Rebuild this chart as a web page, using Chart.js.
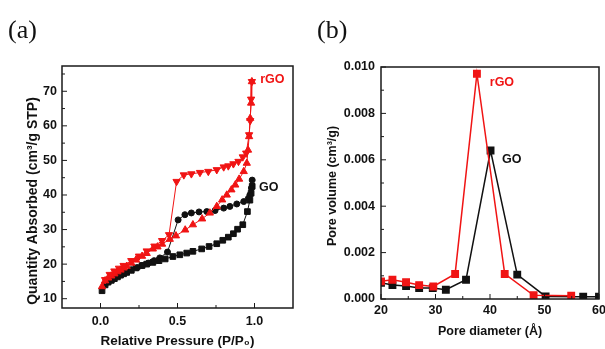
<!DOCTYPE html>
<html>
<head>
<meta charset="utf-8">
<script src="https://cdn.jsdelivr.net/npm/chart.js@4.4.1/dist/chart.umd.min.js"></script>
<style>
  html, body { margin: 0; padding: 0; background: #fff; }
  #wrap { position: relative; width: 605px; height: 349px; overflow: hidden; }
  .panel { position: absolute; top: 0; height: 349px; }
  #isoBox { left: 0; width: 300px; }
  #poreBox { left: 300px; width: 305px; }
  .tag { position: absolute; top: 17px; font-family: "Liberation Serif", serif; font-size: 26px; line-height: 26px; color: #111; }
</style>
</head>
<body>
<div id="wrap">
  <div class="panel" id="isoBox"><canvas id="iso" width="300" height="349"></canvas></div>
  <div class="panel" id="poreBox"><canvas id="pore" width="305" height="349"></canvas></div>
  <div class="tag" style="left:8px">(a)</div>
  <div class="tag" style="left:317px">(b)</div>
</div>
<script>
// (a) N2 isotherms
const goAdsP = [0.01,0.03,0.05,0.07,0.09,0.11,0.13,0.15,0.17,0.2,0.23,0.27,0.3,0.34,0.38,0.42,0.47,0.515,0.56,0.6,0.657,0.705,0.755,0.794,0.83,0.863,0.89,0.924,0.954,0.97,0.978,0.985];
const goAdsQ = [12.3,14.0,14.8,15.3,15.8,16.3,16.8,17.2,17.6,18.2,18.9,19.6,20.0,20.5,21.0,21.5,22.2,22.7,23.2,23.7,24.4,25.1,25.9,26.9,27.8,28.8,30.1,31.4,35.2,38.5,40.5,42.5];
const goDesP = [0.985,0.98,0.97,0.96,0.93,0.885,0.84,0.8,0.744,0.69,0.64,0.59,0.548,0.504,0.435,0.385,0.348,0.31,0.27,0.24,0.2,0.16,0.12,0.08,0.05];
const goDesQ = [44.3,42.0,40.0,39.0,38.1,37.4,36.7,36.2,35.5,35.2,35.1,34.8,34.3,32.8,23.5,21.8,21.0,20.3,19.6,19.0,18.4,17.6,16.7,15.6,14.8];
const rgoAdsP = [0.01,0.03,0.05,0.07,0.09,0.11,0.13,0.15,0.17,0.2,0.23,0.27,0.3,0.34,0.37,0.4,0.45,0.49,0.55,0.6,0.66,0.71,0.755,0.79,0.82,0.85,0.875,0.9,0.93,0.95,0.958,0.965,0.972,0.978,0.983];
const rgoAdsQ = [13.5,15.2,16.0,16.6,17.2,17.8,18.3,18.9,19.4,20.3,21.2,22.3,23.1,24.4,25.0,25.8,27.2,28.2,29.9,31.4,33.1,34.8,36.7,38.6,40.0,41.5,42.9,44.6,46.8,49.2,53.0,56.9,62.2,66.6,72.8];
const rgoDesP = [0.983,0.978,0.972,0.965,0.946,0.924,0.896,0.863,0.83,0.8,0.755,0.7,0.646,0.59,0.541,0.494,0.445,0.4,0.35,0.3,0.25,0.2,0.15,0.12,0.09,0.06,0.03];
const rgoDesQ = [72.8,67.7,61.5,57.4,52.1,51.0,49.7,49.0,48.4,48.1,47.3,46.8,46.5,46.1,45.8,43.9,28.5,26.8,25.2,23.8,22.3,21.0,19.6,18.8,18.0,17.0,15.5];
const isoXTicks = [0, 0.5, 1.0];
const isoYTicks = [10, 20, 30, 40, 50, 60, 70];

// (b) pore size distribution
const rgoPoreD = [20,22.1,24.6,27.0,29.6,33.6,37.6,42.7,48.0,54.9];
const rgoPoreV = [0.00076,0.00083,0.00072,0.0006,0.00054,0.00108,0.00971,0.00108,0.00016,0.00014];
const goPoreD = [20,22.1,24.6,27.0,29.5,31.9,35.6,40.1,45.0,50.2,57.1,60];
const goPoreV = [0.0007,0.0006,0.00056,0.00047,0.00047,0.0004,0.00083,0.0064,0.00105,0.00011,0.0001,0.0001];
const poreXTicks = [20, 30, 40, 50, 60];
const poreYTicks = [0, 0.002, 0.004, 0.006, 0.008, 0.010];

const RED = '#f01414';
const BLACK = '#111111';
const FONT = 'Liberation Sans, Arial, sans-serif';

function pts(xs, ys) {
  return xs.map((x, i) => ({ x: x, y: ys[i] }));
}

// frame, inward ticks, y title and text labels
const frameTicks = {
  id: 'frameTicks',
  afterDraw(chart, args, opts) {
    const { ctx, chartArea: a, scales: { x, y } } = chart;
    ctx.save();
    ctx.strokeStyle = '#1a1a1a';
    ctx.lineWidth = 1;
    ctx.beginPath();
    const xs = opts.xMajor, ys = opts.yMajor;
    xs.forEach(v => { const p = x.getPixelForValue(v); ctx.moveTo(p, a.bottom); ctx.lineTo(p, a.bottom - 5); });
    ys.forEach(v => { const p = y.getPixelForValue(v); ctx.moveTo(a.left, p); ctx.lineTo(a.left + 5, p); });
    const dx = xs[1] - xs[0], dy = ys[1] - ys[0];
    for (let v = xs[0] - dx / 2; v <= x.max; v += dx) {
      if (v <= x.min || v >= x.max) continue;
      const p = x.getPixelForValue(v); ctx.moveTo(p, a.bottom); ctx.lineTo(p, a.bottom - 3);
    }
    for (let v = ys[0] - dy / 2; v <= y.max; v += dy) {
      if (v <= y.min || v >= y.max) continue;
      const p = y.getPixelForValue(v); ctx.moveTo(a.left, p); ctx.lineTo(a.left + 3, p);
    }
    ctx.stroke();
    ctx.lineWidth = 1.5;
    ctx.strokeRect(a.left, a.top, a.right - a.left, a.bottom - a.top);

    // rotated y-axis title
    const t = opts.yTitle;
    ctx.save();
    ctx.translate(t.x, (a.top + a.bottom) / 2 + t.shift);
    ctx.rotate(-Math.PI / 2);
    ctx.font = 'bold ' + t.size + 'px ' + FONT;
    ctx.fillStyle = BLACK;
    ctx.textAlign = 'center';
    ctx.textBaseline = 'middle';
    ctx.fillText(t.text, 0, 0);
    ctx.restore();

    ctx.font = 'bold 12.5px ' + FONT;
    ctx.textBaseline = 'middle';
    ctx.textAlign = 'left';
    opts.labels.forEach(l => {
      ctx.fillStyle = l.color;
      ctx.fillText(l.text, x.getPixelForValue(l.x), y.getPixelForValue(l.y));
    });
    ctx.restore();
  }
};

function axis(o) {
  return {
    type: 'linear',
    min: o.min,
    max: o.max,
    afterFit: s => {
      if (s.isHorizontal()) { s.height = o.size; s.paddingLeft = 0; s.paddingRight = 0; }
      else { s.width = o.size; s.paddingTop = 0; s.paddingBottom = 0; }
    },
    afterBuildTicks: s => { s.ticks = o.ticks.map(v => ({ value: v })); },
    grid: { display: false, drawTicks: false },
    border: { display: false },
    ticks: {
      color: BLACK,
      padding: o.pad,
      maxRotation: 0,
      font: { family: FONT, weight: 'bold', size: 12.5 },
      callback: o.fmt
    },
    title: {
      display: !!o.title,
      text: o.title || '',
      color: BLACK,
      font: { family: FONT, weight: 'bold', size: o.titleSize || 12.5 },
      padding: o.titlePad || 0
    }
  };
}

new Chart(document.getElementById('iso'), {
  type: 'scatter',
  data: {
    datasets: [
      { data: pts(rgoDesP, rgoDesQ), borderColor: RED, backgroundColor: RED, pointStyle: 'triangle', rotation: 180, pointRadius: 4.2, borderWidth: 1, showLine: true, order: 1 },
      { data: pts(rgoAdsP, rgoAdsQ), borderColor: RED, backgroundColor: RED, pointStyle: 'triangle', pointRadius: 4.2, borderWidth: 1, showLine: true, order: 2 },
      { data: pts(goDesP, goDesQ), borderColor: BLACK, backgroundColor: BLACK, pointStyle: 'circle', pointRadius: 3, borderWidth: 1, showLine: true, order: 3 },
      { data: pts(goAdsP, goAdsQ), borderColor: BLACK, backgroundColor: BLACK, pointStyle: 'rect', pointRadius: 4, borderWidth: 1, showLine: true, order: 4 }
    ]
  },
  options: {
    responsive: false,
    animation: false,
    layout: { padding: { left: 0, right: 7, top: 66, bottom: 0 } },
    plugins: {
      legend: { display: false },
      tooltip: { enabled: false },
      frameTicks: {
        xMajor: isoXTicks,
        yMajor: isoYTicks,
        yTitle: { text: 'Quantity Absorbed (cm\u00b3/g STP)', size: 14, x: 33, shift: 14 },
        labels: [
          { text: 'rGO', color: RED, x: 1.037, y: 73.3 },
          { text: 'GO', color: BLACK, x: 1.03, y: 42.1 }
        ]
      }
    },
    scales: {
      x: axis({ min: -0.25, max: 1.25, size: 41, ticks: isoXTicks, pad: 6, fmt: v => v.toFixed(1),
                title: 'Relative Pressure (P/P\u2080)', titleSize: 13.5, titlePad: { top: 0, bottom: 0 } }),
      y: axis({ min: 7.31, max: 77.31, size: 62, ticks: isoYTicks, pad: 5, fmt: v => String(v) })
    }
  },
  plugins: [frameTicks]
});

new Chart(document.getElementById('pore'), {
  type: 'scatter',
  data: {
    datasets: [
      { data: pts(rgoPoreD, rgoPoreV), borderColor: RED, backgroundColor: RED, pointStyle: 'rect', pointRadius: 4.5, borderWidth: 1.5, showLine: true, order: 1 },
      { data: pts(goPoreD, goPoreV), borderColor: BLACK, backgroundColor: BLACK, pointStyle: 'rect', pointRadius: 4.5, borderWidth: 1.5, showLine: true, order: 2 }
    ]
  },
  options: {
    responsive: false,
    animation: false,
    layout: { padding: { left: 0, right: 6, top: 67, bottom: 0 } },
    plugins: {
      legend: { display: false },
      tooltip: { enabled: false },
      frameTicks: {
        xMajor: poreXTicks,
        yMajor: poreYTicks,
        yTitle: { text: 'Pore volume (cm\u00b3/g)', size: 12.5, x: 33, shift: 3 },
        labels: [
          { text: 'rGO', color: RED, x: 39.96, y: 0.00932 },
          { text: 'GO', color: BLACK, x: 42.2, y: 0.0060 }
        ]
      }
    },
    scales: {
      x: axis({ min: 20, max: 60, size: 50, ticks: poreXTicks, pad: 4, fmt: v => String(v),
                title: 'Pore diameter (\u00c5)', titlePad: { top: 0, bottom: 10 } }),
      y: axis({ min: 0, max: 0.010, size: 81, ticks: poreYTicks, pad: 6, fmt: v => v.toFixed(3) })
    }
  },
  plugins: [frameTicks]
});
</script>
</body>
</html>
